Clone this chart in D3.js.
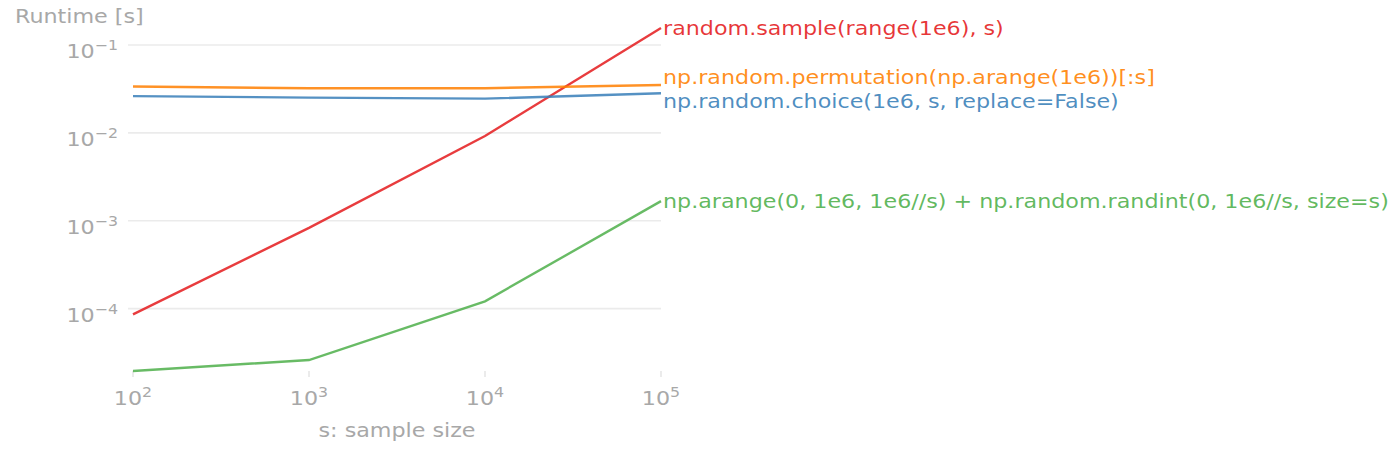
<!DOCTYPE html>
<html>
<head>
<meta charset="utf-8">
<script src="https://cdn.jsdelivr.net/npm/d3@7"></script>
<style>
  html, body { margin: 0; padding: 0; background: #fff; }
  svg { display: block; font-family: "DejaVu Sans", sans-serif; }
</style>
</head>
<body>
<svg id="chart" width="1400" height="449"></svg>
<script>
// ---- data ----
const sampleSizes = [1e2, 1e3, 1e4, 1e5];
const seriesNames = [
  "random.sample(range(1e6), s)",
  "np.random.permutation(np.arange(1e6))[:s]",
  "np.random.choice(1e6, s, replace=False)",
  "np.arange(0, 1e6, 1e6//s) + np.random.randint(0, 1e6//s, size=s)"
];
const randomSample = [8.6e-5, 8.3e-4, 9.2e-3, 0.156];
const npPermutation = [0.0337, 0.0322, 0.0322, 0.0350];
const npChoice = [0.0262, 0.0252, 0.0245, 0.0282];
const npArangeRandint = [1.95e-5, 2.6e-5, 1.21e-4, 1.67e-3];
const seriesColors = ["#e41a1c", "#ff7f00", "#377eb8", "#4daf4a"];
const xTickExponents = [2, 3, 4, 5];
const yTickExponents = [-1, -2, -3, -4];
const yAxisTitle = "Runtime [s]";
const xAxisTitle = "s: sample size";

const seriesValues = [randomSample, npPermutation, npChoice, npArangeRandint];

(function () {
// ---- layout ----
const svg = d3.select("#chart");
const mLeft = 133, mRight = 661, mTop = 28, mBottom = 371;
const sx = 1.17;           // horizontal text stretch
const fs = 19;
const gray = "#a8a8a8";

const allVals = seriesValues.flat();
const x = d3.scaleLog().domain(d3.extent(sampleSizes)).range([mLeft, mRight]);
const y = d3.scaleLog().domain(d3.extent(allVals)).range([mBottom, mTop]);

function stretchedText(g, tx, ty, anchor) {
  return g.append("text")
    .attr("transform", `translate(${tx},${ty}) scale(${sx},1)`)
    .attr("text-anchor", anchor)
    .attr("font-size", fs);
}

// grid lines (y), including short tick
const gridG = svg.append("g");
yTickExponents.forEach(e => {
  const yy = y(Math.pow(10, e));
  gridG.append("line")
    .attr("x1", mLeft - 5).attr("x2", mRight)
    .attr("y1", yy).attr("y2", yy)
    .attr("stroke", "#ebebeb").attr("stroke-width", 1.6);
  const t = stretchedText(gridG, mLeft - 15, yy + 13, "end").attr("fill", gray);
  t.append("tspan").text("10");
  t.append("tspan").attr("dy", -8).attr("font-size", 13.5).text("\u2212" + Math.abs(e));
});

// x ticks
const xG = svg.append("g");
xTickExponents.forEach(e => {
  const xx = x(Math.pow(10, e));
  xG.append("line")
    .attr("x1", xx).attr("x2", xx)
    .attr("y1", mBottom).attr("y2", mBottom + 6)
    .attr("stroke", "#e6e6e6").attr("stroke-width", 1.6);
  const t = stretchedText(xG, xx, mBottom + 34, "middle").attr("fill", gray);
  t.append("tspan").text("10");
  t.append("tspan").attr("dy", -8).attr("font-size", 13.5).text(String(e));
});

// axis titles
stretchedText(svg, 15, 23, "start").attr("fill", gray).text(yAxisTitle);
stretchedText(svg, (mLeft + mRight) / 2, 437, "middle").attr("fill", gray).text(xAxisTitle);

// lines
const line = d3.line().x((d, i) => x(sampleSizes[i])).y(d => y(d));
const linesG = svg.append("g");
seriesValues.forEach((vals, k) => {
  linesG.append("path")
    .datum(vals)
    .attr("d", line)
    .attr("fill", "none")
    .attr("stroke", seriesColors[k])
    .attr("stroke-opacity", 0.85)
    .attr("stroke-width", 2.4);
});

// end labels with simple collision avoidance
const minGap = 24;
let labels = seriesValues.map((vals, k) => ({ k, y0: y(vals[vals.length - 1]) }));
labels.forEach(l => l.y = l.y0);
labels.sort((a, b) => a.y0 - b.y0);
for (let iter = 0; iter < 50; iter++) {
  for (let i = 1; i < labels.length; i++) {
    const a = labels[i - 1], b = labels[i];
    const d = b.y - a.y;
    if (d < minGap) {
      const push = (minGap - d) / 2;
      a.y -= push; b.y += push;
    }
  }
}
const labG = svg.append("g");
labels.forEach(l => {
  stretchedText(labG, mRight + 2, l.y + 7, "start")
    .attr("fill", seriesColors[l.k])
    .attr("fill-opacity", 0.88)
    .text(seriesNames[l.k]);
});
})();
</script>
</body>
</html>
